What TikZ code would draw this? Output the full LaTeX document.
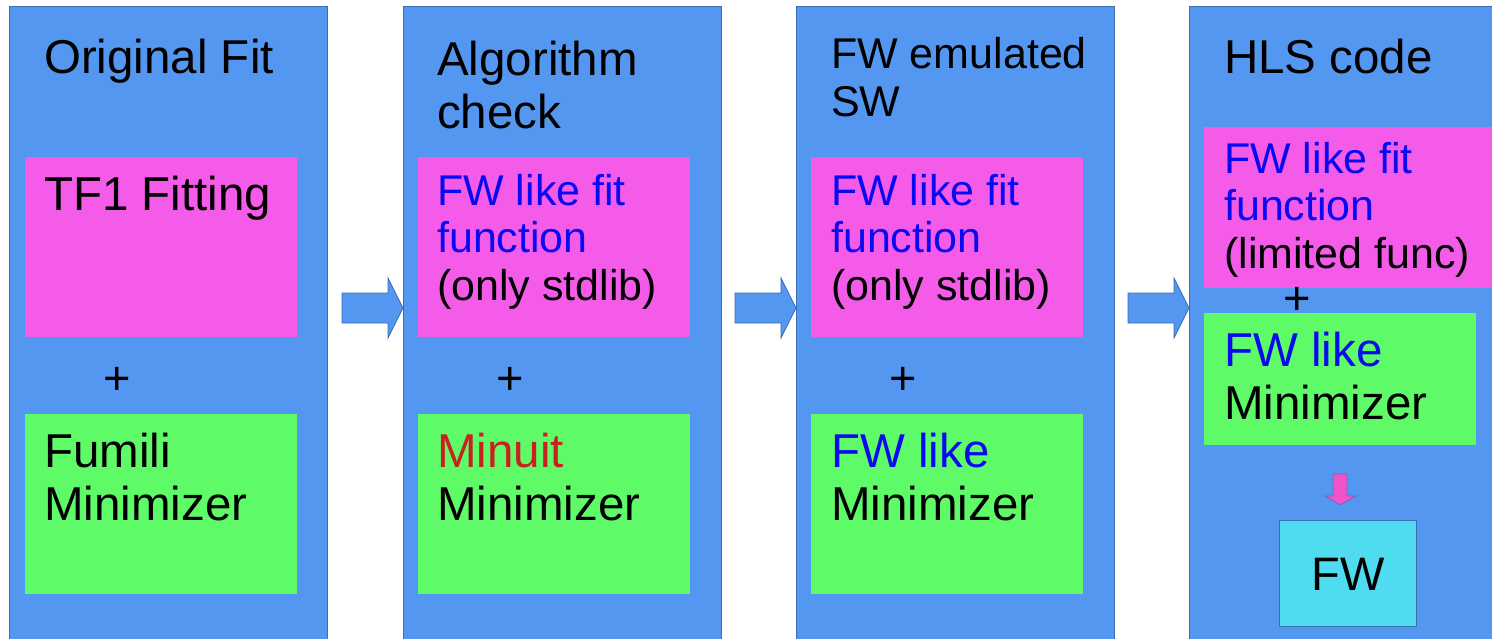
\documentclass[tikz,border=0pt]{standalone}
\usepackage{fontspec}
\setmainfont{Liberation Sans}
\usetikzlibrary{positioning}

\definecolor{colblue}{RGB}{84,151,240}
\definecolor{colline}{RGB}{60,110,180}
\definecolor{fitpink}{RGB}{243,91,232}
\definecolor{mingreen}{RGB}{94,250,104}
\definecolor{fwcyan}{RGB}{80,220,240}
\definecolor{fwblue}{RGB}{10,10,240}
\definecolor{minred}{RGB}{201,33,30}
\definecolor{downpink}{RGB}{241,84,201}

\tikzset{
    col/.style={rectangle, draw=colline, fill=colblue, anchor=north west, inner sep=0pt, minimum width=318pt, minimum height=660pt},
    fitbox/.style={rectangle, fill=fitpink, anchor=north west, inner sep=0pt, minimum width=272pt, minimum height=180pt},
    minbox/.style={rectangle, fill=mingreen, anchor=north west, inner sep=0pt, minimum width=272pt, minimum height=180pt},
    txt/.style={anchor=base west, align=left, inner sep=0pt, font=\fontsize{47.5}{53}\selectfont},
    subtxt/.style={anchor=base west, align=left, inner sep=0pt, font=\fontsize{43}{47.5}\selectfont},
    plus/.style={anchor=base, inner sep=0pt, font=\fontsize{47}{53}\selectfont},
    blockarrow/.style={draw=colline, fill=colblue, line width=0.8pt}
}

\begin{document}
\begin{tikzpicture}[x=1pt, y=-1pt]
        \useasboundingbox (0,0) rectangle (1492,638);
        \clip (0,0) rectangle (1492,638);

        % columns
        \node[col] (c1) at (9,6) {};
        \node[col] (c2) at (403,6) {};
        \node[col] (c3) at (796,6) {};
        \node[col] (c4) at (1189,6) {};

        % titles (base anchor sits on the last line)
        \node[txt] (t1) at (44,73) {Original Fit};
        \node[txt] (t2) at (437,128) {Algorithm\\check};
        \node[subtxt] (t3) at (831,116) {FW emulated\\SW};
        \node[txt] (t4) at (1224,73) {HLS code};

        % fit function boxes
        \node[fitbox] (p1) at (25,157) {};
        \node[fitbox] (p2) at (418,157) {};
        \node[fitbox] (p3) at (811,157) {};
        \node[fitbox, minimum width=292pt, minimum height=161pt] (p4) at (1204,127) {};

        \node[txt] (tp1) at (44,210) {TF1 Fitting};
        \node[subtxt] (tp2) at (437,300) {\textcolor{fwblue}{FW like fit}\\\textcolor{fwblue}{function}\\(only stdlib)};
        \node[subtxt] (tp3) at (831,300) {\textcolor{fwblue}{FW like fit}\\\textcolor{fwblue}{function}\\(only stdlib)};
        \node[subtxt] (tp4) at (1224,268) {\textcolor{fwblue}{FW like fit}\\\textcolor{fwblue}{function}\\(limited func)};

        % plus signs
        \node[plus] (s1) at (117,394) {+};
        \node[plus] (s2) at (510,394) {+};
        \node[plus] (s3) at (903,394) {+};
        \node[plus] (s4) at (1297,314) {+};

        % minimizer boxes
        \node[minbox] (g1) at (25,414) {};
        \node[minbox] (g2) at (418,414) {};
        \node[minbox] (g3) at (811,414) {};
        \node[minbox, minimum height=132pt] (g4) at (1204,313) {};

        \node[txt] (tg1) at (44,520) {Fumili\\Minimizer};
        \node[txt] (tg2) at (437,520) {\textcolor{minred}{Minuit}\\Minimizer};
        \node[txt] (tg3) at (831,520) {\textcolor{fwblue}{FW like}\\Minimizer};
        \node[txt] (tg4) at (1224,419) {\textcolor{fwblue}{FW like}\\Minimizer};

        % firmware box
        \node[rectangle, draw=colline, fill=fwcyan, anchor=north west, inner sep=0pt, minimum width=137pt, minimum height=106pt] (fw) at (1279,520) {};
        \node[plus] (tfw) at (1348,590) {FW};

        %Draw block arrows
        \foreach \x in {403,796,1189}
            \draw[blockarrow] (\x-61,293) -- (\x-15,293) -- (\x-15,278) -- (\x,308) -- (\x-15,338) -- (\x-15,323) -- (\x-61,323) -- cycle;

        \draw[blockarrow, fill=downpink, draw=colline!70!downpink] (1333,474) -- (1347,474) -- (1347,496) -- (1356,496) -- (1340,505) -- (1325,496) -- (1333,496) -- cycle;
\end{tikzpicture}
\end{document}
